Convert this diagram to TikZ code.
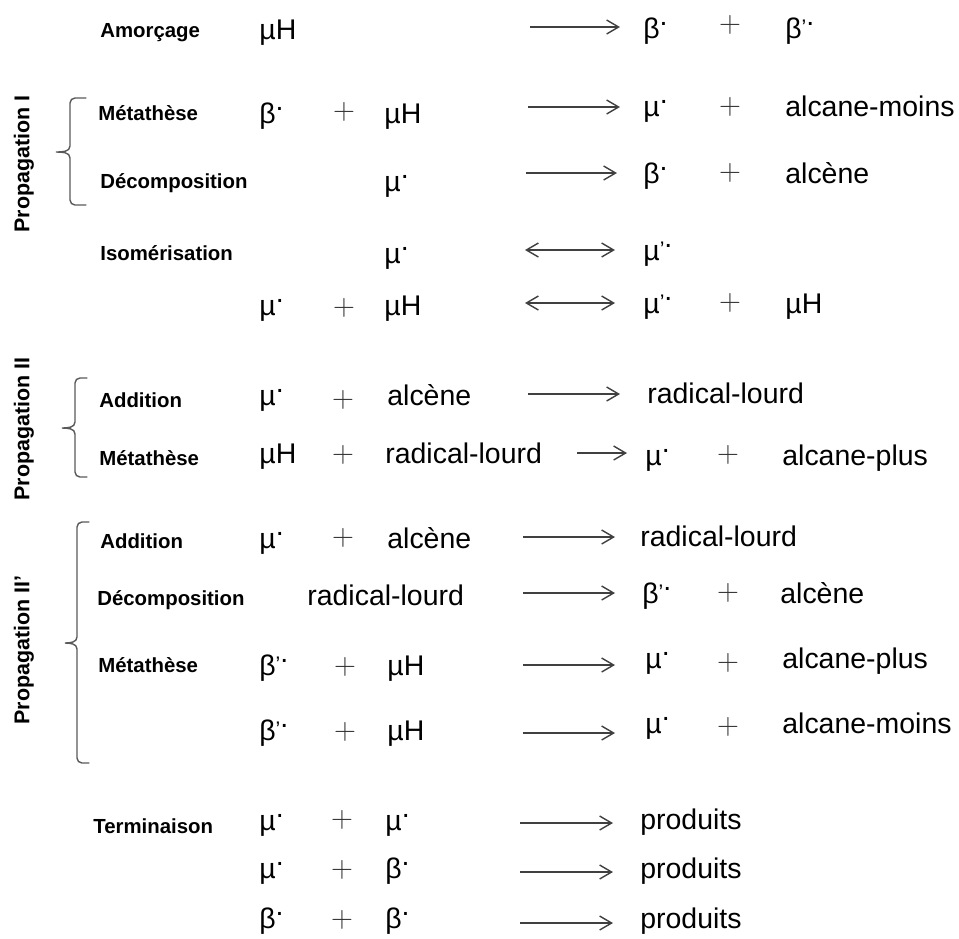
\documentclass[tikz,border=0pt]{standalone}
\usepackage{fontspec}
\setmainfont{Liberation Sans}
\usetikzlibrary{arrows.meta}
\colorlet{flechegris}{black!75}
\colorlet{accolgris}{black!65}
\newcommand{\rd}{\raisebox{0.45em}{.}}
\newcommand{\rdd}{\raisebox{0.12em}{\fontsize{12}{12}\selectfont ’}\rd}
\tikzset{
  espece/.style={anchor=base west, inner sep=0pt, font=\fontsize{16.2}{19}\selectfont},
  etape/.style={anchor=base west, inner sep=0pt, font=\fontsize{11.6}{14}\selectfont\bfseries},
  phase/.style={rotate=90, inner sep=0pt, font=\fontsize{12.2}{14}\selectfont\bfseries},
  signe/.style={inner sep=0pt, text=black!80, font=\fontsize{16.2}{19}\selectfont},
  rxn/.style={-{Straight Barb[length=2.4mm,width=2.8mm]}, line width=0.8pt, flechegris},
  eqm/.style={{Straight Barb[length=2.4mm,width=2.8mm]}-{Straight Barb[length=2.4mm,width=2.8mm]}, line width=0.8pt, flechegris},
  accol/.style={line width=0.8pt, accolgris, line cap=round}
}

\begin{document}
\begin{tikzpicture}[x=0.02cm, y=-0.02cm]
    \useasboundingbox (0,0) rectangle (959,938);

    \node[phase] (ph1) at (24,164) {Propagation I};
    \node[phase] (ph2) at (24,429) {Propagation II};
    \node[phase] (ph3) at (24,650) {Propagation II’};

    \draw[accol] (86,98) -- (75,98) to[out=180,in=90] (70,103) -- (70,146) to[out=-90,in=0] (56,152)
        to[out=0,in=90] (70,158) -- (70,200) to[out=-90,in=180] (75,205) -- (86,205);
    \draw[accol] (87,378) -- (80,378) to[out=180,in=90] (75,383) -- (75,422) to[out=-90,in=0] (62,428)
        to[out=0,in=90] (75,434) -- (75,472) to[out=-90,in=180] (80,477) -- (87,477);
    \draw[accol] (89,522) -- (82,522) to[out=180,in=90] (77,527) -- (77,637) to[out=-90,in=0] (65,643)
        to[out=0,in=90] (77,649) -- (77,758) to[out=-90,in=180] (82,763) -- (89,763);

    % Amorcage
    \node[etape] (l1) at (100,37) {Amorçage};
    \node[espece] (r1a) at (259,39) {µH};
    \coordinate (f1s) at (530,27);
    \coordinate (f1e) at (620,27);
    \draw[rxn] (f1s) -- (f1e);
    \node[espece] (p1a) at (643,38) {β\rd};
    \node[signe] (s1) at (730,25) {$+$};
    \node[espece] (p1b) at (785,38) {β\rdd};

    % Propagation I
    \node[etape] (l2) at (98,120) {Métathèse};
    \node[espece] (r2a) at (259,123) {β\rd};
    \node[signe] (t2) at (344,112) {$+$};
    \node[espece] (r2b) at (384,123) {µH};
    \coordinate (f2s) at (528,107);
    \coordinate (f2e) at (620,107);
    \draw[rxn] (f2s) -- (f2e);
    \node[espece] (p2a) at (643,116) {µ\rd};
    \node[signe] (s2) at (730,107) {$+$};
    \node[espece] (p2b) at (785,116) {alcane-moins};

    \node[etape] (l3) at (100,188) {Décomposition};
    \node[espece] (r3a) at (384,191) {µ\rd};
    \coordinate (f3s) at (526,173);
    \coordinate (f3e) at (617,173);
    \draw[rxn] (f3s) -- (f3e);
    \node[espece] (p3a) at (643,183) {β\rd};
    \node[signe] (s3) at (730,173) {$+$};
    \node[espece] (p3b) at (785,183) {alcène};

    \node[etape] (l4) at (100,260) {Isomérisation};
    \node[espece] (r4a) at (384,263) {µ\rd};
    \coordinate (f4s) at (525,250);
    \coordinate (f4e) at (615,250);
    \draw[eqm] (f4s) -- (f4e);
    \node[espece] (p4a) at (643,260) {µ\rdd};

    \node[espece] (r5a) at (259,315) {µ\rd};
    \node[signe] (t5) at (344,308) {$+$};
    \node[espece] (r5b) at (384,315) {µH};
    \coordinate (f5s) at (525,303);
    \coordinate (f5e) at (615,303);
    \draw[eqm] (f5s) -- (f5e);
    \node[espece] (p5a) at (643,313) {µ\rdd};
    \node[signe] (s5) at (730,303) {$+$};
    \node[espece] (p5b) at (785,313) {µH};

    % Propagation II
    \node[etape] (l6) at (99,407) {Addition};
    \node[espece] (r6a) at (259,405) {µ\rd};
    \node[signe] (t6) at (343,400) {$+$};
    \node[espece] (r6b) at (387,405) {alcène};
    \coordinate (f6s) at (528,394);
    \coordinate (f6e) at (620,394);
    \draw[rxn] (f6s) -- (f6e);
    \node[espece] (p6a) at (647,403) {radical-lourd};

    \node[etape] (l7) at (99,465) {Métathèse};
    \node[espece] (r7a) at (259,463) {µH};
    \node[signe] (t7) at (343,455) {$+$};
    \node[espece] (r7b) at (385,463) {radical-lourd};
    \coordinate (f7s) at (577,453);
    \coordinate (f7e) at (627,453);
    \draw[rxn] (f7s) -- (f7e);
    \node[espece] (p7a) at (645,465) {µ\rd};
    \node[signe] (s7) at (728,455) {$+$};
    \node[espece] (p7b) at (782,465) {alcane-plus};

    % Propagation II'
    \node[etape] (l8) at (100,548) {Addition};
    \node[espece] (r8a) at (259,548) {µ\rd};
    \node[signe] (t8) at (343,538) {$+$};
    \node[espece] (r8b) at (387,548) {alcène};
    \coordinate (f8s) at (523,537);
    \coordinate (f8e) at (615,537);
    \draw[rxn] (f8s) -- (f8e);
    \node[espece] (p8a) at (640,546) {radical-lourd};

    \node[etape] (l9) at (97,605) {Décomposition};
    \node[espece] (r9a) at (307,605) {radical-lourd};
    \coordinate (f9s) at (523,593);
    \coordinate (f9e) at (615,593);
    \draw[rxn] (f9s) -- (f9e);
    \node[espece] (p9a) at (642,603) {β\rdd};
    \node[signe] (s9) at (728,593) {$+$};
    \node[espece] (p9b) at (780,603) {alcène};

    \node[etape] (l10) at (98,672) {Métathèse};
    \node[espece] (r10a) at (259,675) {β\rdd};
    \node[signe] (t10) at (345,667) {$+$};
    \node[espece] (r10b) at (387,675) {µH};
    \coordinate (f10s) at (523,665);
    \coordinate (f10e) at (615,665);
    \draw[rxn] (f10s) -- (f10e);
    \node[espece] (p10a) at (645,668) {µ\rd};
    \node[signe] (s10) at (728,663) {$+$};
    \node[espece] (p10b) at (782,668) {alcane-plus};

    \node[espece] (r11a) at (259,740) {β\rdd};
    \node[signe] (t11) at (345,732) {$+$};
    \node[espece] (r11b) at (387,740) {µH};
    \coordinate (f11s) at (523,733);
    \coordinate (f11e) at (615,733);
    \draw[rxn] (f11s) -- (f11e);
    \node[espece] (p11a) at (645,733) {µ\rd};
    \node[signe] (s11) at (728,727) {$+$};
    \node[espece] (p11b) at (782,733) {alcane-moins};

    % Terminaison
    \node[etape] (l12) at (93,833) {Terminaison};
    \node[espece] (r12a) at (259,830) {µ\rd};
    \node[signe] (t12) at (342,820) {$+$};
    \node[espece] (r12b) at (385,830) {µ\rd};
    \coordinate (f12s) at (520,823);
    \coordinate (f12e) at (613,823);
    \draw[rxn] (f12s) -- (f12e);
    \node[espece] (p12a) at (640,829) {produits};

    \node[espece] (r13a) at (259,878) {µ\rd};
    \node[signe] (t13) at (342,870) {$+$};
    \node[espece] (r13b) at (385,878) {β\rd};
    \coordinate (f13s) at (520,872);
    \coordinate (f13e) at (613,872);
    \draw[rxn] (f13s) -- (f13e);
    \node[espece] (p13a) at (640,878) {produits};

    \node[espece] (r14a) at (259,928) {β\rd};
    \node[signe] (t14) at (342,920) {$+$};
    \node[espece] (r14b) at (385,928) {β\rd};
    \coordinate (f14s) at (520,923);
    \coordinate (f14e) at (613,923);
    \draw[rxn] (f14s) -- (f14e);
    \node[espece] (p14a) at (640,928) {produits};
\end{tikzpicture}
\end{document}
